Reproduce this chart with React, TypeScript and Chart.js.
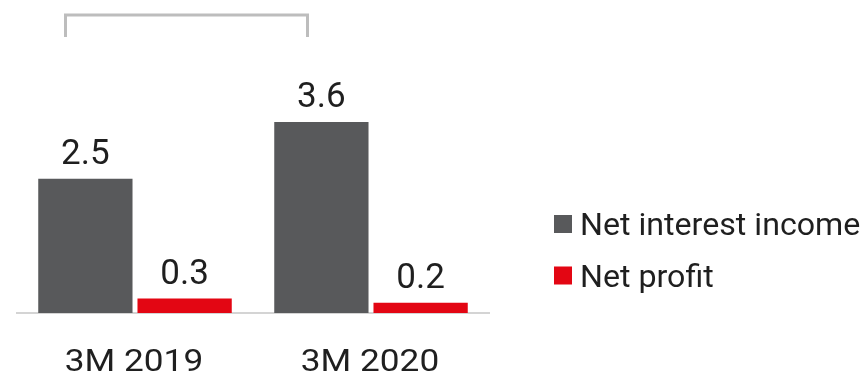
import React, { useEffect, useRef } from "react";
import { Chart, registerables } from "chart.js";

Chart.register(...registerables);

const categories = ["3M 2019", "3M 2020"];
const seriesNames = ["Net interest income", "Net profit"];
const netInterestIncome = [2.52, 3.58];
const netProfit = [0.27, 0.19];
const yMax = 5.12;

const GRAY = "#58595b";
const RED = "#e30613";
const TEXT = "#1f1f1f";
const AXIS = "#d4d4d4";
const BRACKET = "#bdbdbd";

function wideText(ctx: CanvasRenderingContext2D, text: string, x: number, y: number, sx: number) {
  ctx.save();
  ctx.translate(x, y);
  ctx.scale(sx, 1);
  ctx.fillText(text, 0, 0);
  ctx.restore();
}

const decorPlugin = {
  id: "decor",
  afterDatasetsDraw(chart: any) {
    const ctx = chart.ctx as CanvasRenderingContext2D;
    const area = chart.chartArea;
    ctx.save();
    // value labels
    ctx.font = "35px Roboto";
    ctx.fillStyle = TEXT;
    ctx.textAlign = "center";
    ctx.textBaseline = "alphabetic";
    chart.data.datasets.forEach((ds: any, i: number) => {
      const meta = chart.getDatasetMeta(i);
      meta.data.forEach((bar: any, j: number) => {
        const v = ds.data[j] as number;
        ctx.fillText(v.toFixed(1), bar.x, bar.y - 15);
      });
    });
    // category labels
    const xs = chart.scales.x;
    ctx.font = "32px Roboto";
    categories.forEach((c, i) => {
      wideText(ctx, c, xs.getPixelForValue(i) - 1, area.bottom + 57.5, 1.1);
    });

    // bracket
    ctx.strokeStyle = BRACKET;
    ctx.lineWidth = 3;
    ctx.lineCap = "butt";
    ctx.lineJoin = "miter";
    ctx.beginPath();
    ctx.moveTo(area.left + 48.5, 37);
    ctx.lineTo(area.left + 48.5, 15);
    ctx.lineTo(area.left + 290.5, 15);
    ctx.lineTo(area.left + 290.5, 37);
    ctx.stroke();

    // legend
    ctx.textAlign = "left";
    ctx.font = "31px Roboto";
    const lx = area.right + 65;
    const rows = [233, 284.5];
    chart.data.datasets.forEach((ds: any, i: number) => {
      const base = rows[i];
      ctx.fillStyle = ds.backgroundColor;
      ctx.fillRect(lx, base - 18, 18, 18);
      ctx.fillStyle = TEXT;
      wideText(ctx, ds.label, lx + 26, base + 2, 1.037);
    });
    ctx.restore();
  },
};

export default function App() {
  const ref = useRef<HTMLCanvasElement | null>(null);

  useEffect(() => {
    if (!ref.current) return;
    const chart = new Chart(ref.current, {
      type: "bar",
      data: {
        labels: categories,
        datasets: [
          {
            label: seriesNames[0],
            data: netInterestIncome,
            backgroundColor: GRAY,
            categoryPercentage: 0.841,
            barPercentage: 0.95,
          },
          {
            label: seriesNames[1],
            data: netProfit,
            backgroundColor: RED,
            categoryPercentage: 0.841,
            barPercentage: 0.95,
          },
        ],
      },
      options: {
        responsive: false,
        animation: false,
        layout: { padding: { left: 17, right: 375, top: 40, bottom: 64 } },
        plugins: {
          legend: { display: false },
          tooltip: { enabled: false },
        },
        scales: {
          x: {
            grid: { display: false, drawTicks: false },
            ticks: { display: false },
            border: { display: true, color: AXIS, width: 2 },
          },
          y: {
            display: false,
            min: 0,
            max: yMax,
          },
        },
      },
      plugins: [decorPlugin],
    });
    return () => chart.destroy();
  }, []);

  return (
    <div style={{ position: "absolute", left: 0, top: 0, width: 864, height: 377, background: "#fff" }}>
      <canvas ref={ref} width={864} height={377} style={{ display: "block" }} />
    </div>
  );
}
